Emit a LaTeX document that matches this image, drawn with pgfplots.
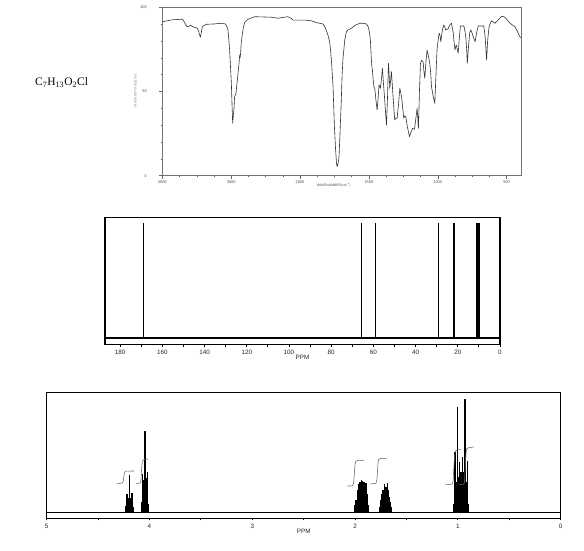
\documentclass[border=0pt]{standalone}
\usepackage{pgfplots}
\pgfplotsset{compat=1.18}
\usepackage{fontspec}
\setmainfont{Liberation Sans}
\newfontfamily\formulafont{Liberation Serif}
\begin{document}
\begin{tikzpicture}
\path[use as bounding box, fill=white] (0pt,0pt) rectangle (584pt,551pt);
\node[anchor=base west, font=\formulafont\fontsize{11.5}{13}\selectfont, inner sep=0] at (35pt,465pt) {C\textsubscript{7}H\textsubscript{13}O\textsubscript{2}Cl};

% ---------------- IR ----------------
\begin{axis}[at={(162.3pt,375.3pt)}, anchor=south west, scale only axis,
  width=358.7pt, height=168.4pt,
  xmin=0, xmax=5.21, ymin=0, ymax=100,
  xtick={0,1,2,3,4,5}, xticklabels={4000,3000,2000,1500,1000,500},
  minor x tick num=3,
  ytick={0,50,100}, minor y tick num=4,
  tick align=outside, tick pos=left,
  major tick length=3pt, minor tick length=1.8pt,
  /pgf/number format/assume math mode=true,
  tick label style={font=\fontsize{3.9}{4.5}\selectfont, text=black!70},
  yticklabel style={xshift=-9pt},
  xticklabel style={yshift=1pt},
  axis line style={black!55, line width=0.6pt},
  tick style={black!60, line width=0.4pt},
  xlabel={WAVENUMBER(cm\textsuperscript{-1})},
  xlabel style={font=\fontsize{3.4}{4}\selectfont, text=black!70, yshift=8pt, xshift=-8pt},
  ylabel={TRANSMITTANCE(\%)},
  ylabel style={font=\fontsize{3.4}{4}\selectfont, text=black!45, yshift=-4pt},
  clip=true]
\addplot[black!80, line width=0.6pt, line join=round] coordinates {
(0,91.4) (0.13,92.5) (0.276,92.9) (0.30,92.6) (0.324,90.9) (0.358,88.5) (0.385,88.7) (0.411,89.3) (0.44,88.5) (0.46,88.2) (0.509,87.6) (0.53,85.5) (0.552,82.2) (0.567,85) (0.581,88.5) (0.64,89.9) (0.75,90.1) (0.858,90.5) (0.916,90.1) (0.935,89) (0.954,86.5) (0.968,80) (0.978,74.6) (0.99,65) (1.003,54.9) (1.013,42) (1.022,31.1) (1.03,35) (1.04,39) (1.05,46.9) (1.06,48) (1.07,48.9) (1.085,55) (1.10,60.8) (1.115,67) (1.124,71.7) (1.13,70) (1.136,72) (1.145,78) (1.157,82.5) (1.175,87.5) (1.196,90.9) (1.245,92.9) (1.342,94.4) (1.45,94.3) (1.584,94.1) (1.68,93.5) (1.75,94.0) (1.826,94.4) (1.87,93.5) (1.9,92.4) (2.07,92.4) (2.166,92.0) (2.238,90.9) (2.334,90.1) (2.36,88.5) (2.38,86.5) (2.41,83) (2.43,79.6) (2.445,74) (2.456,68.7) (2.468,61) (2.48,52.9) (2.49,41) (2.5,29.1) (2.515,17) (2.53,7.4) (2.54,5.4) (2.55,6.5) (2.567,11.3) (2.58,24) (2.6,45) (2.612,60) (2.625,70) (2.635,74) (2.65,80.6) (2.674,85.5) (2.70,86.6) (2.747,87.5) (2.80,89.3) (2.868,90.5) (2.92,90.5) (2.965,90.1) (2.99,88.5) (3.01,85) (3.023,80) (3.035,70) (3.045,64) (3.052,62.8) (3.06,58) (3.075,52.5) (3.086,51.9) (3.10,46) (3.12,39.0) (3.135,46) (3.148,53.9) (3.168,51.9) (3.185,58) (3.197,63.8) (3.21,56) (3.227,46.9) (3.245,36) (3.256,30.1) (3.27,45) (3.285,66.7) (3.295,60) (3.304,51.9) (3.315,56) (3.328,61.8) (3.35,48) (3.376,33.1) (3.395,34.3) (3.41,34) (3.43,42) (3.45,51.9) (3.465,49) (3.478,46) (3.492,40) (3.507,34.1) (3.52,35.5) (3.536,35) (3.56,29) (3.59,23.2) (3.61,25.5) (3.634,28.1) (3.663,27.5) (3.68,33) (3.7,40) (3.71,35) (3.72,28.1) (3.735,50) (3.75,66.7) (3.765,68.5) (3.788,67.7) (3.80,62) (3.8125,57.8) (3.83,68) (3.846,74.6) (3.865,71) (3.885,66.7) (3.90,60) (3.91,52.9) (3.935,47) (3.958,43) (3.975,60) (3.99,74.6) (4.005,80) (4.02,84.6) (4.033,83.5) (4.045,79.6) (4.07,87) (4.09,89.5) (4.105,88) (4.118,86.5) (4.135,86.8) (4.15,87.1) (4.175,89.5) (4.2,90.5) (4.225,85) (4.25,74.6) (4.262,76.6) (4.27,77.6) (4.285,75) (4.297,72.7) (4.315,82) (4.33,88.9) (4.38,88.9) (4.395,86) (4.41,81.6) (4.422,74) (4.43,66.7) (4.45,78) (4.465,85) (4.48,86.5) (4.50,84.6) (4.515,82.5) (4.544,79.6) (4.565,85) (4.59,88.9) (4.67,88.9) (4.69,82) (4.71,68.7) (4.725,80) (4.746,88.5) (4.78,92) (4.83,90.5) (4.88,92.5) (4.93,94.8) (4.975,94.1) (5.01,92.5) (5.05,90.5) (5.085,89.5) (5.12,88.5) (5.16,85.5) (5.193,82.5) (5.21,82)
};
\end{axis}

% ---------------- 13C ----------------
\begin{axis}[at={(105pt,206.7pt)}, anchor=south west, scale only axis,
  width=395pt, height=127pt,
  x dir=reverse, xmin=0, xmax=187.2, ymin=-6.3, ymax=120.7,
  xtick={0,20,...,180}, minor xtick={10,30,...,170}, ytick=\empty,
  tick align=outside, xtick pos=bottom,
  major tick length=2.8pt, minor tick length=2.8pt,
  /pgf/number format/assume math mode=true,
  tick label style={font=\fontsize{6.3}{7}\selectfont, text=black!85},
  xticklabel style={yshift=1pt},
  axis line style={black, line width=1.3pt},
  tick style={black, line width=0.9pt},
  xlabel={PPM},
  xlabel style={font=\fontsize{6.3}{7}\selectfont, text=black!85, yshift=6pt},
  clip=true]
\addplot[black, line width=1.2pt] coordinates {(0,0) (187.2,0)};
\addplot[ycomb, black, line width=1.35pt] coordinates {(169.0,115.3) (65.7,115.3) (59.0,115.3) (29.0,115.3) (21.8,115.3)};
\addplot[ycomb, black, line width=1.7pt] coordinates {(10.9,115.3) (10.0,115.3)};
\end{axis}

% ---------------- 1H ----------------
\begin{axis}[at={(46.7pt,32.7pt)}, anchor=south west, scale only axis,
  width=514pt, height=126pt,
  x dir=reverse, xmin=0, xmax=5, ymin=-5.8, ymax=120.2,
  xtick={0,1,...,5}, minor xtick={0.5,1.5,...,4.5}, ytick=\empty,
  tick align=outside, xtick pos=bottom,
  major tick length=2.2pt, minor tick length=2.2pt,
  /pgf/number format/assume math mode=true,
  tick label style={font=\fontsize{6.3}{7}\selectfont, text=black!85},
  xticklabel style={yshift=0pt},
  axis line style={black, line width=1.3pt},
  tick style={black, line width=0.9pt},
  xlabel={PPM},
  xlabel style={font=\fontsize{6.3}{7}\selectfont, text=black!85, yshift=6pt},
  clip=true]
\addplot[black, line width=1.4pt] coordinates {(0,0) (5,0)};
\addplot[ycomb, black, line width=1.4pt] coordinates {
(4.228,6) (4.217,18.4) (4.205,14) (4.194,37.4) (4.183,14) (4.171,19.4) (4.160,5)
(4.080,10) (4.069,38.4) (4.057,32) (4.045,81.7) (4.034,34) (4.022,40.7) (4.011,8)
(2.000,7) (1.990,12) (1.975,22) (1.963,28) (1.951,30) (1.939,32.6) (1.927,31) (1.915,30.5) (1.905,29) (1.895,29) (1.884,18) (1.872,7)
(1.760,5) (1.748,12.5) (1.737,18) (1.727,22.9) (1.714,28.1) (1.700,25) (1.687,29.1) (1.678,22) (1.670,15.9) (1.658,10) (1.647,5.7)
(1.044,8) (1.030,60) (1.018,30) (1.006,105) (0.994,35) (0.982,50) (0.970,40) (0.956,55) (0.944,40) (0.932,113) (0.920,30) (0.908,51) (0.894,8)
};
\addplot[black!60, line width=0.55pt, smooth, tension=0.4] coordinates {(4.32,29.2) (4.265,29.4) (4.256,31) (4.250,35.5) (4.244,40) (4.232,41.3) (4.15,41.5)};
\addplot[black!60, line width=0.55pt, smooth, tension=0.4] coordinates {(4.13,29.2) (4.09,29.4) (4.083,33) (4.076,45) (4.068,51.5) (4.05,53.2) (4.015,53.5)};
\addplot[black!60, line width=0.55pt, smooth, tension=0.4] coordinates {(2.074,26.5) (2.023,27) (2.012,32) (2.003,45) (1.995,51) (1.975,52) (1.915,52.2)};
\addplot[black!60, line width=0.55pt, smooth, tension=0.4] coordinates {(1.849,28.9) (1.798,29.2) (1.787,34) (1.778,48) (1.770,53) (1.750,54) (1.694,54.2)};
\addplot[black!60, line width=0.55pt, smooth, tension=0.4] coordinates {(1.119,28.2) (1.054,28.6) (1.045,35) (1.035,52) (1.025,61.5) (1.005,62.5) (0.974,63)};
\addplot[black!60, line width=0.55pt, smooth, tension=0.4] coordinates {(0.99,28.2) (0.942,28.5) (0.933,36) (0.924,54) (0.916,63.5) (0.895,64.8) (0.845,65.5)};
\end{axis}
\end{tikzpicture}
\end{document}
